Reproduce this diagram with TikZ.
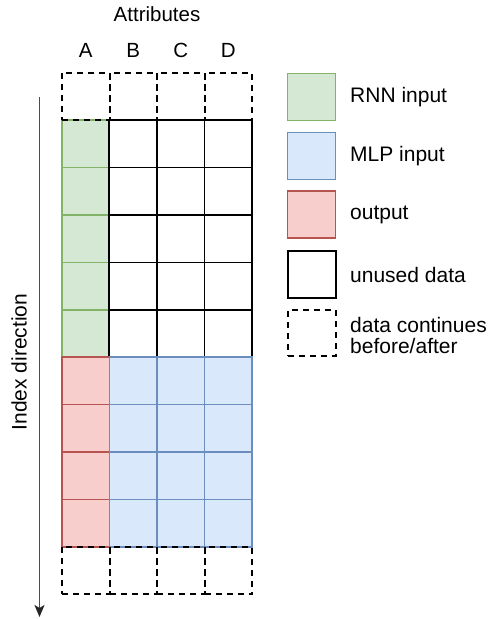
\documentclass[tikz,border=0pt]{standalone}
\usepackage{fontspec}
\setmainfont{Liberation Sans}
\usetikzlibrary{arrows.meta}
\definecolor{gfill}{HTML}{D5E8D4}\definecolor{gline}{HTML}{82B366}
\definecolor{bfill}{HTML}{DAE8FC}\definecolor{bline}{HTML}{6C8EBF}
\definecolor{rfill}{HTML}{F8CECC}\definecolor{rline}{HTML}{B85450}
\definecolor{arrcol}{HTML}{4D4D4D}
\tikzset{
  cellbox/.style={inner sep=0pt, minimum width=47.5pt, minimum height=47.4pt, line width=1.6pt},
  whitecell/.style={cellbox, draw=black, fill=white},
  greencell/.style={cellbox, draw=gline, fill=gfill},
  redcell/.style={cellbox, draw=rline, fill=rfill},
  bluecell/.style={cellbox, draw=bline, fill=bfill},
  dashcell/.style={cellbox, draw=black, line width=2pt, dash pattern=on 6pt off 5pt},
  legbox/.style={inner sep=0pt, minimum width=48pt, minimum height=47pt, line width=1.6pt},
  lab/.style={font=\fontsize{20.5}{22}\selectfont, inner sep=0pt},
  leglab/.style={font=\fontsize{21}{21}\selectfont, inner sep=0pt, anchor=west, align=left},
}
\begin{document}
\begin{tikzpicture}[x=1pt,y=-1pt]
\useasboundingbox (0,0) rectangle (490,619);
% white (unused) cells, rows 1-5, columns B-D
\foreach \r in {1,...,5}{
  \foreach \c/\cx in {B/133.25,C/180.75,D/228.25}{
    \node[whitecell] (w\c\r) at (\cx,{120.1+47.4*(\r-0.5)}) {};
  }
}
% green (RNN input) cells column A
\foreach \r in {1,...,5}{
  \node[greencell] (gA\r) at (85.75,{120.1+47.4*(\r-0.5)}) {};
}
% black borders over green right edges
\foreach \r in {1,...,5}{
  \draw[line width=1.6pt] (wB\r.north west) -- (wB\r.south west);
}
% red (output) cells column A
\foreach \r in {1,...,4}{
  \node[redcell] (rA\r) at (85.75,{357.1+47.4*(\r-0.5)}) {};
}
% blue (MLP input) cells
\foreach \r in {1,...,4}{
  \foreach \c/\cx in {B/133.25,C/180.75,D/228.25}{
    \node[bluecell] (b\c\r) at (\cx,{357.1+47.4*(\r-0.5)}) {};
  }
}
% dashed cells before / after
\foreach \c/\cx in {A/85.75,B/133.25,C/180.75,D/228.25}{
  \node[dashcell] (top\c) at (\cx,96.4) {};
  \node[dashcell] (bot\c) at (\cx,570.4) {};
}
% header labels
\node[lab] (attr) at (157,14) {Attributes};
\node[lab] (la) at (85.75,50) {A};
\node[lab] (lb) at (133.25,50) {B};
\node[lab] (lc) at (180.75,50) {C};
\node[lab] (ld) at (228.25,50) {D};
% index direction arrow
\coordinate (arrS) at (39.5,97);
\coordinate (arrE) at (39.5,617);
\draw[draw=arrcol, line width=1.6pt, -{Stealth[length=12pt,width=10pt,inset=3pt,color=black!85]}] (arrS) -- (arrE);
\node[lab, font=\fontsize{21}{22}\selectfont, rotate=90] (idx) at (19,362) {Index direction};
% legend
\node[legbox, draw=gline, fill=gfill] (lg1) at (311.5,97) {};
\node[legbox, draw=bline, fill=bfill] (lg2) at (311.5,156) {};
\node[legbox, draw=rline, fill=rfill] (lg3) at (311.5,214.7) {};
\node[legbox, draw=black, fill=white, line width=2pt] (lg4) at (311.5,274.5) {};
\node[legbox, draw=black, line width=2pt, dash pattern=on 6pt off 5pt, minimum height=46pt] (lg5) at (311.5,333) {};
\node[leglab] (t1) at (350,97) {RNN input};
\node[leglab] (t2) at (350,156) {MLP input};
\node[leglab] (t3) at (350,214.7) {output};
\node[leglab] (t4) at (350,274.5) {unused data};
\node[leglab] (t5) at (350,335) {data continues\\before/after};
\end{tikzpicture}
\end{document}
